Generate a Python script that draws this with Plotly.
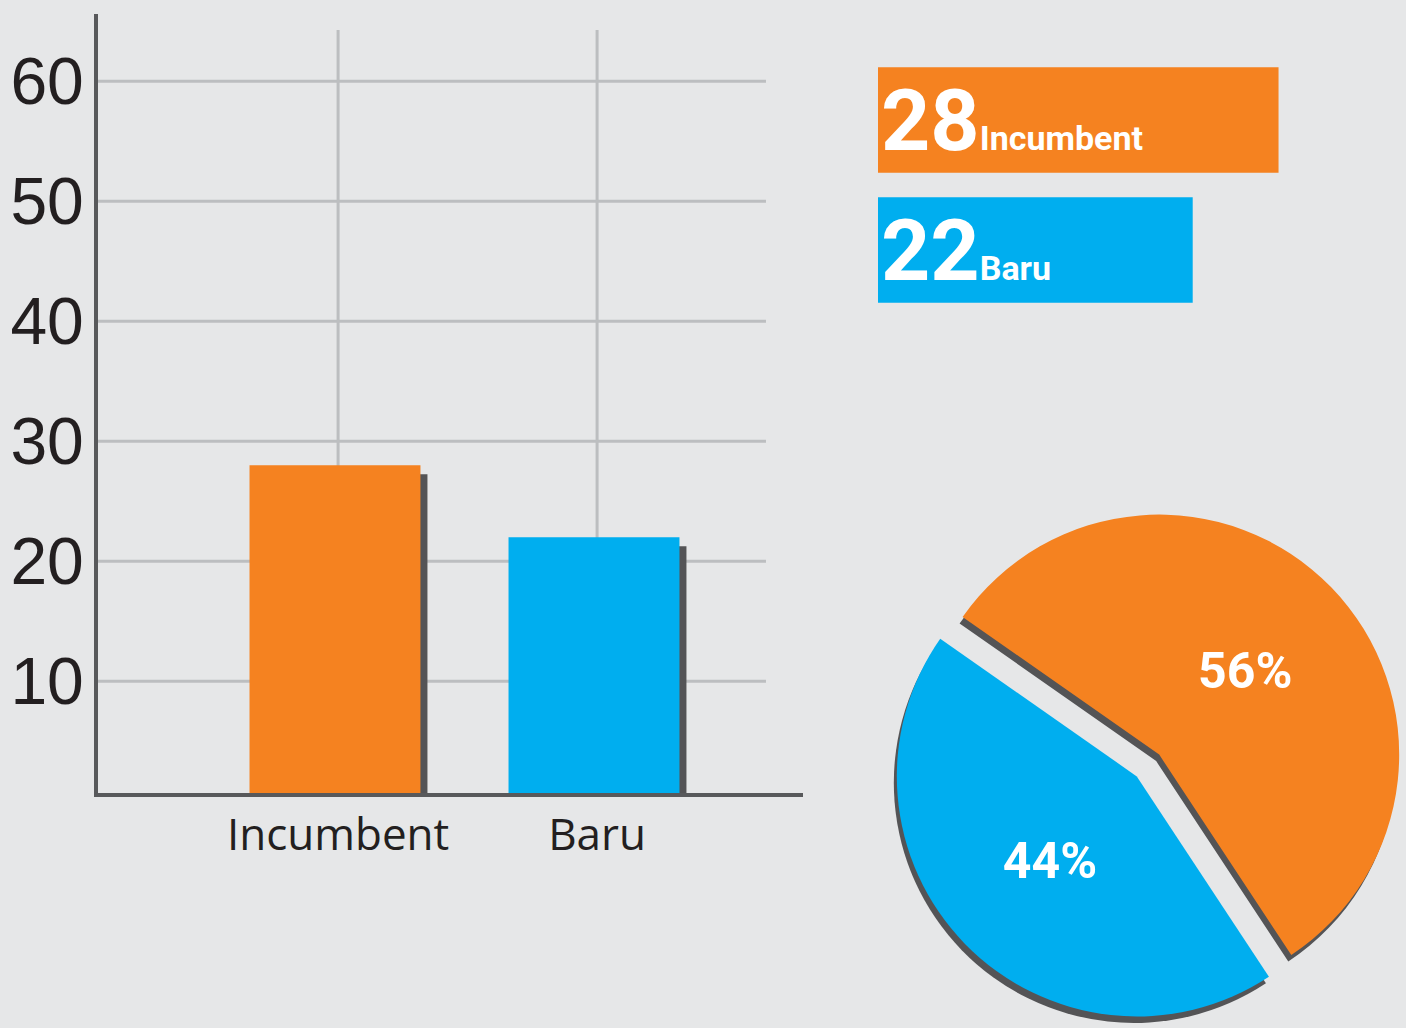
import plotly.graph_objects as go

# Chart data
categories = ["Incumbent", "Baru"]
counts = [28, 22]
y_ticks = [10, 20, 30, 40, 50, 60]

# Style
W, H = 1406, 1028
BG = "#e6e7e8"
ORANGE = "#f58220"
BLUE = "#00aeef"
SHADOW = "#545456"
GRID = "#bcbec0"
AXIS = "#58595b"
TEXT = "#231f20"
NARROW = "Roboto, sans-serif"
colors = [ORANGE, BLUE]


def px_x(a, b):
    return [a / W, b / W]


def px_y(top, bottom):
    return [1 - bottom / H, 1 - top / H]


# Main column chart with offset dark shadows
def create_bar_traces():
    shadow = go.Bar(x=categories, y=counts, base=-0.75, width=0.66, offset=-0.315,
                    marker=dict(color=SHADOW, line_width=0), hoverinfo="skip")
    bars = go.Bar(x=categories, y=counts, width=0.66, offset=-0.342,
                  marker=dict(color=colors, line_width=0))
    return [shadow, bars]


# Big number boxes top right
def create_summary_trace():
    labels = [f"<b>{n}</b><span style='font-size:34px'><b>{c}</b></span>" for c, n in zip(categories, counts)]
    return go.Bar(x=counts, y=categories, orientation="h", xaxis="x2", yaxis="y2", width=0.81,
                  marker=dict(color=colors, line_width=0),
                  text=labels, textposition="inside", insidetextanchor="start", textangle=0,
                  constraintext="none", textfont=dict(family=NARROW, size=86, color="white"))


# Pie with pulled slices and a shadow copy underneath
def create_pie_traces():
    common = dict(labels=categories, values=counts, pull=0.065, sort=False,
                  direction="counterclockwise", rotation=-55, showlegend=False)
    shadow = go.Pie(domain=dict(x=px_x(889.4, 1400.6), y=px_y(516.4, 1027.6)),
                    marker=dict(colors=[SHADOW, SHADOW], line_width=0),
                    textinfo="none", hoverinfo="skip", **common)
    pie = go.Pie(domain=dict(x=px_x(892.4, 1403.6), y=px_y(509.9, 1021.1)),
                 marker=dict(colors=colors, line_width=0),
                 texttemplate="<b>%{percent:.0%}</b>", textposition="inside",
                 insidetextorientation="horizontal",
                 textfont=dict(family=NARROW, size=50, color="white"), **common)
    return [shadow, pie]


# Gridlines drawn as shapes so they can stop short of the axis ends
def add_gridlines(fig):
    for t in y_ticks:
        fig.add_shape(type="line", xref="x domain", yref="y", x0=0, x1=0.9475, y0=t, y1=t,
                      line=dict(color=GRID, width=3), layer="below")
    for c in categories:
        fig.add_shape(type="line", xref="x", yref="y domain", x0=c, x1=c, y0=0, y1=0.9795,
                      line=dict(color=GRID, width=3), layer="below")


fig = go.Figure(create_bar_traces() + [create_summary_trace()] + create_pie_traces())
add_gridlines(fig)

fig.update_layout(width=W, height=H, margin=dict(l=0, r=0, t=0, b=0),
                  paper_bgcolor=BG, plot_bgcolor=BG, showlegend=False, barmode="overlay",
                  xaxis=dict(domain=px_x(98, 803), range=[-0.927, 1.795],
                             showgrid=False, zeroline=False, showline=True, linecolor=AXIS, linewidth=4,
                             ticks="", tickfont=dict(family="Open Sans", size=44, color=TEXT)),
                  yaxis=dict(domain=px_y(14, 793), range=[0.7, 65.6], tickvals=y_ticks,
                             showgrid=False, zeroline=False, showline=True, linecolor=AXIS, linewidth=4,
                             ticks="", ticklabelstandoff=-3,
                             tickfont=dict(family="Liberation Sans, Arial", size=66, color=TEXT)),
                  xaxis2=dict(domain=px_x(878, 1300), range=[0, 29.5], visible=False, anchor="y2"),
                  yaxis2=dict(domain=px_y(55, 315), range=[1.5, -0.5], visible=False, anchor="x2"))

fig.write_html("out.html", config={"displayModeBar": False},
               post_script="document.body.style.margin='0';document.body.style.background='#e6e7e8';")
